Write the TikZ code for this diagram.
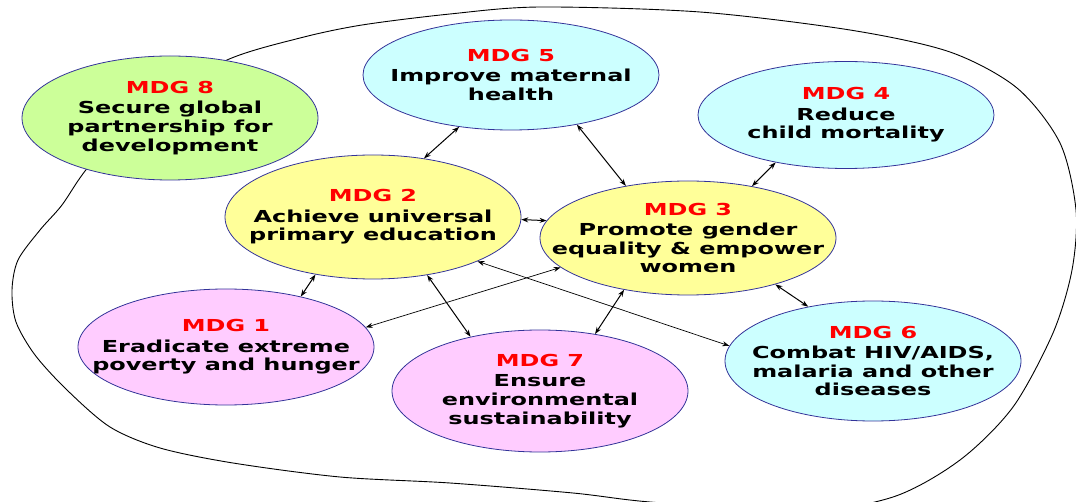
\documentclass[tikz,border=0pt]{standalone}
\usepackage{fontspec}
\setmainfont{DejaVu Sans}[FakeStretch=1.45]
\usepackage{tikz}
\usetikzlibrary{arrows.meta, shapes.geometric}

\definecolor{goalline}{RGB}{51,51,153}
\definecolor{goalgreen}{RGB}{204,255,153}
\definecolor{goalcyan}{RGB}{204,255,255}
\definecolor{goalyellow}{RGB}{255,255,153}
\definecolor{goalpink}{RGB}{255,204,255}
\newcommand{\goalno}[1]{\textcolor{red}{#1}\\[1.5pt]}

\begin{document}
\begin{tikzpicture}[
  x=1pt, y=-1pt,
  goal/.style={draw=goalline, line width=0.8pt, ellipse, minimum width=296pt, minimum height=116pt, inner sep=0pt},
  txt/.style={align=center, font=\bfseries\fontsize{16.5}{18.8}\selectfont, inner sep=0pt},
  link/.style={{Stealth[length=7pt,width=5pt]}-{Stealth[length=7pt,width=5pt]}, line width=1pt},
  longlink/.style={link, line width=0.7pt}
]
\useasboundingbox (0,0) rectangle (1076,502);

% Outer boundary
\draw[line width=0.9pt] plot[smooth cycle, tension=0.5] coordinates {
  (227,60) (300,38) (362,25) (450,14) (540,7) (700,12) (850,30) (950,52)
  (1017,88) (1060,143) (1076,210) (1072,270) (1053,333) (1013,407) (960,460)
  (893,497) (800,512) (650,502) (573,493) (450,483) (340,477) (233,463)
  (160,448) (110,427) (67,390) (35,355) (16,322) (12,290) (18,260)
  (40,230) (62,205) (90,165) (150,105)};

% Goals
\node[goal, fill=goalgreen, minimum height=124pt,
  label={[txt]center:{\goalno{MDG 8}Secure global\\partnership for\\development}}] (m8) at (170,118) {};
\node[goal, fill=goalcyan, minimum height=110pt,
  label={[txt]center:{\goalno{MDG 5}Improve maternal\\health}}] (m5) at (511,75) {};
\node[goal, fill=goalcyan, minimum height=107pt,
  label={[txt]center:{\goalno{MDG 4}Reduce\\child mortality}}] (m4) at (846,115) {};
\node[goal, fill=goalyellow, minimum height=124pt,
  label={[txt]center:{\goalno{MDG 2}Achieve universal\\primary education}}] (m2) at (373,217) {};
\node[goal, fill=goalyellow, minimum height=114pt,
  label={[txt]center:{\goalno{MDG 3}Promote gender\\equality \& empower\\women}}] (m3) at (688,238) {};
\node[goal, fill=goalpink, minimum height=116pt,
  label={[txt]center:{\goalno{MDG 1}Eradicate extreme\\poverty and hunger}}] (m1) at (226,347) {};
\node[goal, fill=goalpink, minimum height=122pt,
  label={[txt]center:{\goalno{MDG 7}Ensure\\environmental\\sustainability}}] (m7) at (540,391) {};
\node[goal, fill=goalcyan, minimum height=120pt,
  label={[txt]center:{\goalno{MDG 6}Combat HIV/AIDS,\\malaria and other\\diseases}}] (m6) at (873,361) {};

% Links between goals
\draw[link] (m5.225) -- (m2.49);
\draw[link] (m5.323) -- (m3.140);
\draw[link] (m4.214) -- (m3.39);
\draw[link] (m2.359) -- (m3.173);
\draw[link] (m2.225) -- (m1.34);
\draw[link] (m2.313) -- (m7.142);
\draw[link] (m3.219) -- (m7.46);
\draw[link] (m3.332) -- (m6.140);
\draw[longlink] (m3.193) -- (m1.8);
\draw[longlink] (m2.337) -- (m6.174);

\end{tikzpicture}
\end{document}
